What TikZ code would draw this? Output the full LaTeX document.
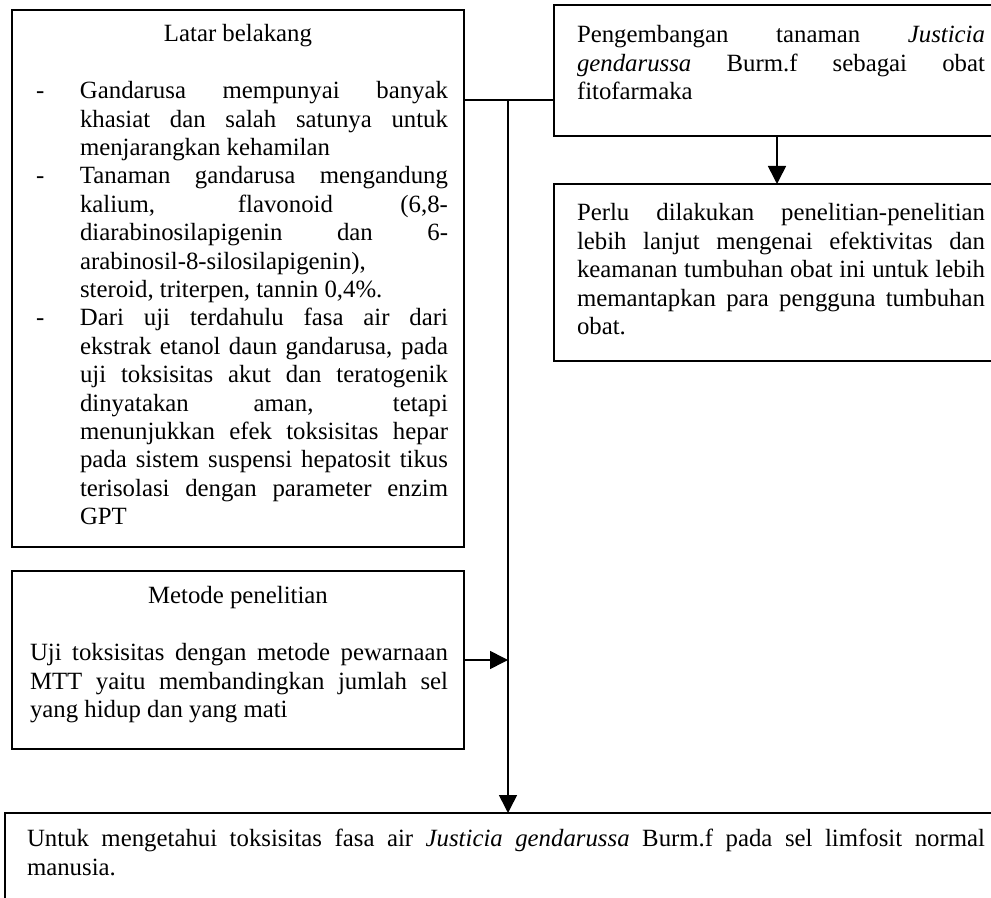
\documentclass[tikz,border=0pt]{standalone}
\usepackage{fontspec}
\setmainfont{Liberation Serif}
\usetikzlibrary{arrows.meta}
\tolerance=10000 \hbadness=10000
\hyphenpenalty=10000 \exhyphenpenalty=10000
\newcommand{\isi}[3]{\parbox[t][#2][t]{#1}{#3}}
\newcommand{\butir}[1]{\par\hangindent=22pt\hangafter=1\noindent\makebox[22pt][l]{-}#1}
\begin{document}
\begin{tikzpicture}[>={Triangle[length=9pt,width=9pt]}, thick, x=0.5pt, y=-0.5pt,
  font=\fontsize{12.4}{14.2}\selectfont,
  kotak/.style={draw, rectangle, anchor=north west, inner xsep=0pt, outer sep=0pt}]
\useasboundingbox (0,0) rectangle (991,898);
\clip (0,0) rectangle (991,898);
\node[kotak, inner ysep=6pt](latar) at (12,10){\isi{226pt}{256.5pt}{%
  {\centering\strut Latar belakang\par}
  \vspace{\baselineskip}
  \leftskip=12pt \rightskip=8pt
  \butir{Gandarusa mempunyai banyak\linebreak khasiat dan salah satunya untuk\linebreak menjarangkan kehamilan}
  \butir{Tanaman gandarusa mengandung\linebreak kalium, flavonoid (6,8-\linebreak diarabinosilapigenin dan 6-\linebreak arabinosil-8-silosilapigenin),\newline steroid, triterpen, tannin 0,4\%.}
  \butir{Dari uji terdahulu fasa air dari\linebreak ekstrak etanol daun gandarusa, pada\linebreak uji toksisitas akut dan teratogenik\linebreak dinyatakan aman, tetapi\linebreak menunjukkan efek toksisitas hepar\linebreak pada sistem suspensi hepatosit tikus\linebreak terisolasi dengan parameter enzim\linebreak GPT}\par}};
\node[kotak, inner ysep=6.5pt](metode) at (12,571){\isi{226pt}{76pt}{%
  {\centering\strut Metode penelitian\par}
  \vspace{\baselineskip}
  \leftskip=9pt \rightskip=8pt
  \noindent Uji toksisitas dengan metode pewarnaan\linebreak MTT yaitu membandingkan jumlah sel\linebreak yang hidup dan yang mati\par}};
\node[kotak, inner ysep=9pt](pengembangan) at (554,5){\isi{223pt}{47.5pt}{%
  \leftskip=11.5pt \rightskip=7.5pt
  \strut Pengembangan tanaman \textit{Justicia}\linebreak \textit{gendarussa} Burm.f sebagai obat\linebreak fitofarmaka\par}};
\node[kotak, inner ysep=8.5pt](perlu) at (554,184){\isi{223pt}{71.5pt}{%
  \leftskip=11.5pt \rightskip=7.5pt
  \strut Perlu dilakukan penelitian-penelitian\linebreak lebih lanjut mengenai efektivitas dan\linebreak keamanan tumbuhan obat ini untuk lebih\linebreak memantapkan para pengguna tumbuhan\linebreak obat.\par}};
\node[kotak, inner ysep=7pt](tujuan) at (5,813){\isi{497.5pt}{34.5pt}{%
  \leftskip=11pt \rightskip=7.5pt
  \strut Untuk mengetahui toksisitas fasa air \textit{Justicia gendarussa} Burm.f pada sel limfosit normal\linebreak manusia.\par}};
\coordinate (cabang) at (508,100);
\draw (latar.east |- cabang) -- (pengembangan.west |- cabang);
\draw[->] (cabang) -- (tujuan.north -| cabang);
\draw[->] (metode.east) -- (metode.east -| cabang);
\draw[->] (pengembangan.south) -- (perlu.north);
\end{tikzpicture}
\end{document}
